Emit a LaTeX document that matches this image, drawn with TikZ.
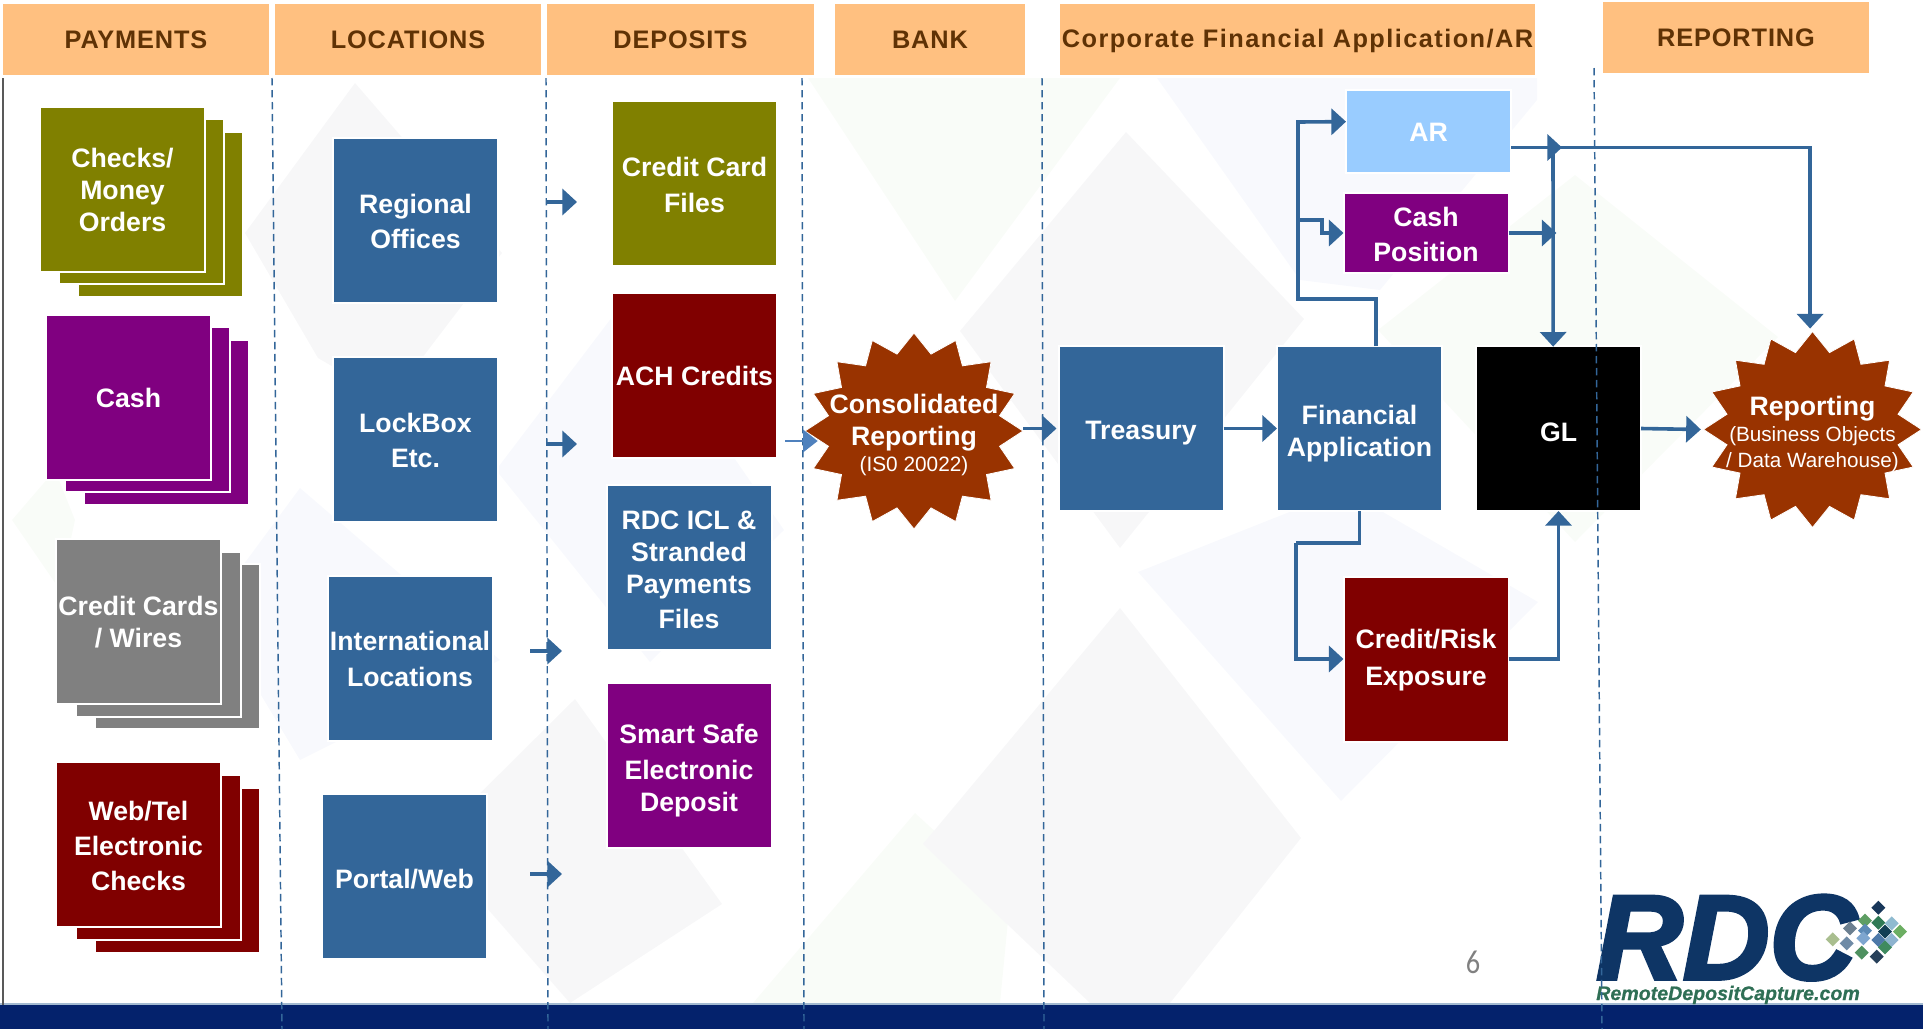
\documentclass[tikz,border=0pt]{standalone}
\usepackage{fontspec}
\setmainfont{Liberation Sans}
\newfontfamily\hdfont[LetterSpace=3.5]{Liberation Sans}
\newfontfamily\corpfont[LetterSpace=5.7]{Liberation Sans}
\newfontfamily\logofont[FakeBold=3]{Liberation Sans}
\newfontfamily\logosmall[FakeBold=0.6]{Liberation Sans}
\newfontfamily\numfont{Carlito}
\usetikzlibrary{arrows.meta}
\definecolor{hdfill}{HTML}{FFC080}
\definecolor{hdtext}{HTML}{5F3205}
\definecolor{rblue}{HTML}{336699}
\definecolor{rolive}{HTML}{808000}
\definecolor{rmaroon}{HTML}{800000}
\definecolor{rpurple}{HTML}{800080}
\definecolor{rgrey}{HTML}{808080}
\definecolor{rsky}{HTML}{99CCFF}
\definecolor{rstar}{HTML}{993300}
\definecolor{rthin}{HTML}{4F81BD}
\definecolor{bgA}{HTML}{F7F7F8}
\definecolor{bgB}{HTML}{F8F9FD}
\definecolor{bgC}{HTML}{F9FCF8}
\definecolor{bandblue}{HTML}{04226C}
\definecolor{logonavy}{HTML}{0E3565}
\definecolor{logogreen}{HTML}{2F6F55}
\newcommand\dn[1]{\rule{0pt}{\dimexpr14.6pt+#1pt+#1pt\relax}}
\tikzset{
  hd/.style={fill=hdfill,draw=none,inner sep=0pt,outer sep=0pt,text=hdtext,minimum height=53.25pt,font=\hdfont\bfseries\fontsize{19}{21}\selectfont},
  box/.style={fill=#1,draw=white,line width=1.5pt,inner sep=0pt,outer sep=0pt,minimum width=123.75pt,minimum height=123.75pt,text=white,align=center,font=\bfseries\fontsize{20}{24}\selectfont},
  flatbox/.style={box=#1,minimum height=60pt},
  starlabel/.style={inner sep=0pt,outer sep=0pt,minimum width=163.5pt,minimum height=147pt,text=white,align=center,font=\bfseries\fontsize{20}{24}\selectfont},
  starshape/.style={fill=rstar,draw=white,line width=0.6pt},
  sep/.style={draw=rblue,line width=1.1pt,dash pattern=on 5.5pt off 3.5pt},
  conn/.style={draw=rblue,line width=2.7pt,-{Triangle[length=11pt,width=19.5pt]}},
  plainconn/.style={draw=rblue,line width=2.7pt},
  thinconn/.style={draw=rthin,line width=1pt,-{Triangle[length=11pt,width=17pt]}}
}
\begin{document}
\begin{tikzpicture}[x=0.75pt,y=-0.75pt]
\useasboundingbox (0,0) rectangle (1923,1029);
% watermark
\fill[bgA] (355,83) -- (245,233) -- (318,358) -- (390,400) -- (502,253) -- cycle;
\fill[bgB] (625,300) -- (496,470) -- (650,662) -- (784,530) -- cycle;
\fill[bgB] (300,488) -- (210,610) -- (300,760) -- (500,660) -- cycle;
\fill[bgC] (55,470) -- (12,520) -- (60,590) -- (75,520) -- cycle;
\fill[bgA] (575,699) -- (430,843) -- (570,1003) -- (722,904) -- cycle;
\fill[bgC] (808,78) -- (955,301) -- (1120,78) -- cycle;
\fill[bgC] (915,813) -- (753,1003) -- (1000,1003) -- (1010,900) -- cycle;
\fill[bgA] (1126,132) -- (960,331) -- (1120,548) -- (1304,319) -- cycle;
\fill[bgB] (1157,78) -- (1537,78) -- (1537,100) -- (1380,290) -- (1300,280) -- cycle;
\fill[bgC] (1575,175) -- (1378,330) -- (1575,542) -- (1778,337) -- cycle;
\fill[bgB] (1345,490) -- (1138,572) -- (1341,801) -- (1538,602) -- cycle;
\fill[bgA] (1120,608) -- (923,844) -- (1090,1003) -- (1170,1003) -- (1301,838) -- cycle;
% bottom band and left rule
\fill[bandblue] (0,1005) rectangle (1923,1029);
\draw[draw=rblue!45!white,line width=1pt] (0,1004) -- (1923,1004);
\draw[draw=black!65,line width=1.5pt] (2.5,78) -- (2.5,1005);
% headers
\node[hd,minimum width=199.5pt] (h1) at (136,39.5) {\rule{0pt}{14pt}PAYMENTS};
\node[hd,minimum width=199.5pt] (h2) at (408,39.5) {\rule{0pt}{14pt}LOCATIONS};
\node[hd,minimum width=200.25pt] (h3) at (680.5,39.5) {\rule{0pt}{14pt}DEPOSITS};
\node[hd,minimum width=142.5pt] (h4) at (930,39.5) {\rule{0pt}{14pt}BANK};
\node[hd,minimum width=356.25pt,font=\corpfont\bfseries\fontsize{19}{21}\selectfont] (h5) at (1297.5,39.5) {\rule{0pt}{16.5pt}Corporate Financial Application/AR};
\node[hd,minimum width=199.5pt] (h6) at (1736,37.5) {\rule{0pt}{14pt}REPORTING};
% payment stacks
\node[box=rolive] (p1c) at (160.5,214.5) {};
\node[box=rolive] (p1b) at (141.5,201.5) {};
\node[box=rolive] (p1) at (122.5,189) {\dn{.9}Checks/\\Money\\Orders};
\node[box=rpurple] (p2c) at (166.5,422) {};
\node[box=rpurple] (p2b) at (147.5,409.5) {};
\node[box=rpurple] (p2) at (128.5,397) {\dn{.9}Cash};
\node[box=rgrey] (p3c) at (177,646.5) {};
\node[box=rgrey] (p3b) at (158,634) {};
\node[box=rgrey] (p3) at (138.5,621) {\dn{.9}Credit Cards\\/ Wires};
\node[box=rmaroon] (p4c) at (177,870) {};
\node[box=rmaroon] (p4b) at (158,857.5) {};
\node[box=rmaroon] (p4) at (138.5,844.5) {\dn{.9}Web/Tel\\[2.3pt]Electronic\\[2.3pt]Checks};
% locations
\node[box=rblue] (l1) at (415.5,220.5) {\dn{.9}Regional\\[2.3pt]Offices};
\node[box=rblue] (l2) at (415.5,439) {\dn{.9}LockBox\\[2.3pt]Etc.};
\node[box=rblue] (l3) at (410,658) {\dn{.5}International\\[2.8pt]Locations};
\node[box=rblue] (l4) at (404.5,876.5) {\dn{1.8}Portal/Web};
% deposits
\node[box=rolive] (d1) at (694.5,183) {\dn{1.4}Credit Card\\[2.3pt]Files};
\node[box=rmaroon] (d2) at (694.5,375.5) {\dn{.5}ACH Credits};
\node[box=rblue] (d3) at (689,567) {\dn{1.8}RDC ICL \&\\Stranded\\Payments\\[2.3pt]Files};
\node[box=rpurple] (d4) at (689,765.5) {\dn{3.5}Smart Safe\\[2.8pt]Electronic\\Deposit};
% consolidated star
\draw[starshape] plot[samples at={0,...,31}] ({914+109*(0.9+0.1*cos(180*\x))*sin(11.25*\x)},{431-98*(0.9+0.1*cos(180*\x))*cos(11.25*\x)}) -- cycle;
\node[starlabel] (consol) at (914,431) {\dn{3}Consolidated\\Reporting\\[-5pt]{\mdseries\fontsize{15.6}{18}\selectfont (IS0 20022)}};
% finance boxes
\node[box=rblue] (tre) at (1141,428.5) {\dn{3.2}Treasury};
\node[box=rblue] (fin) at (1359.5,428.5) {\dn{3.4}Financial\\Application};
\node[box=black] (gl) at (1558.5,428.5) {\dn{2.3}GL};
\node[flatbox=rsky,minimum height=62.25pt] (ar) at (1428.5,131.5) {\dn{.4}AR};
\node[flatbox=rpurple,minimum height=60pt] (cp) at (1426,233) {\dn{.9}Cash\\[2.3pt]Position};
\node[box=rmaroon] (cr) at (1426,659) {\dn{.9}Credit/Risk\\[3.8pt]Exposure};
% reporting star
\draw[starshape] plot[samples at={0,...,31}] ({1812.5+109*(0.9+0.1*cos(180*\x))*sin(11.25*\x)},{429.5-98*(0.9+0.1*cos(180*\x))*cos(11.25*\x)}) -- cycle;
\node[starlabel] (rep) at (1812.5,429.5) {\dn{3}Reporting\\[-4pt]{\mdseries\fontsize{15.5}{18}\selectfont (Business Objects}\\[-5pt]{\mdseries\fontsize{15.5}{18}\selectfont / Data Warehouse)}};
% page number
\node[inner sep=0pt,text=rgrey,xscale=0.85,font=\numfont\fontsize{25}{27}\selectfont] (pg) at (1473,962) {6};
% logo
\node[inner sep=0pt,text=logonavy,font=\logofont\bfseries\itshape\fontsize{90}{90}\selectfont,anchor=base west] (lg) at (1596,979) {RDC};
\node[inner sep=0pt,text=logogreen,font=\logosmall\bfseries\itshape\fontsize{14.7}{15}\selectfont,anchor=base west] (lgs) at (1596,1000) {RemoteDepositCapture.com};
\foreach \tx/\ty/\tc in {985/143/18375A,945/182/5E9E63,985/188/2F7A55,1025/190/8FBBD0,900/205/6B7F90,945/212/5C8AB5,1005/215/123F55,1050/215/6CAE62,848/238/A9BE8F,890/250/6F8BA6,940/235/7EA6CF,985/240/4D79A8,1025/240/8DB3CF,1005/262/3F8A5F,935/278/4E9060,980/290/27405A}{
  \pgfmathsetmacro{\gx}{1550+\tx/3}
  \pgfmathsetmacro{\gy}{860+\ty/3}
  \definecolor{tilec}{HTML}{\tc}
  \fill[tilec] (\gx-7,\gy) -- (\gx,\gy-7) -- (\gx+7,\gy) -- (\gx,\gy+7) -- cycle;
}
% separators
\draw[sep] (272,78) -- (282,1029);
\draw[sep] (546,78) -- (548,1029);
\draw[sep] (802,78) -- (804,1029);
\draw[sep] (1042,78) -- (1044,1029);
\draw[sep] (1594,68) -- (1602,1029);
% free ends
\coordinate (a1) at (546,202);
\coordinate (a1e) at (577,202);
\coordinate (a2) at (546,444);
\coordinate (a2e) at (577,444);
\coordinate (a3) at (530,651);
\coordinate (a3e) at (562,651);
\coordinate (a4) at (530,874);
\coordinate (a4e) at (562,874);
\coordinate (bs) at (785,441);
\coordinate (fbusT) at (1298,299);
\coordinate (fbusB) at (1296,543);
\coordinate (gbus) at (1553,147.5);
\draw[conn] (a1) -- (a1e);
\draw[conn] (a2) -- (a2e);
\draw[conn] (a3) -- (a3e);
\draw[conn] (a4) -- (a4e);
\draw[thinconn] (bs) -- ([xshift=9.5pt,yshift=-7.5pt]consol.west);
\draw[conn] (consol.east |- tre.west) -- ([xshift=-1.5pt]tre.west);
\draw[conn] (tre.east) -- (fin.west);
% financial up to AR and cash position
\draw[plainconn] ([xshift=12.4pt]fin.north) |- (fbusT) -- (fbusT |- 0,220);
\draw[conn] (fbusT |- 0,220) -- (1322,220) -- (1322,233) -- (cp.west);
\draw[conn] (fbusT) -- (fbusT |- 0,122) -- ([yshift=7.4pt]ar.west);
% financial down to credit
\draw[plainconn] (fin.south) -- (fin.south |- fbusB) -- (fbusB);
\draw[conn] (fbusB) |- (cr.west);
% AR to GL and reporting
\draw[conn] ([yshift=-12pt]ar.east) -- ++(51,0);
\draw[conn] ([yshift=-12pt]ar.east) -| ([xshift=-1.8pt,yshift=2.2pt]rep.north);
\draw[conn] (gbus) -- ([xshift=-4pt,yshift=-0.5pt]gl.north);
\draw[conn] (cp.east) -- ++(48,0);
\draw[conn] (cr.east) -| (gl.south);
\draw[conn] (gl.east) -- ([xshift=-2pt]rep.west);
\end{tikzpicture}
\end{document}
